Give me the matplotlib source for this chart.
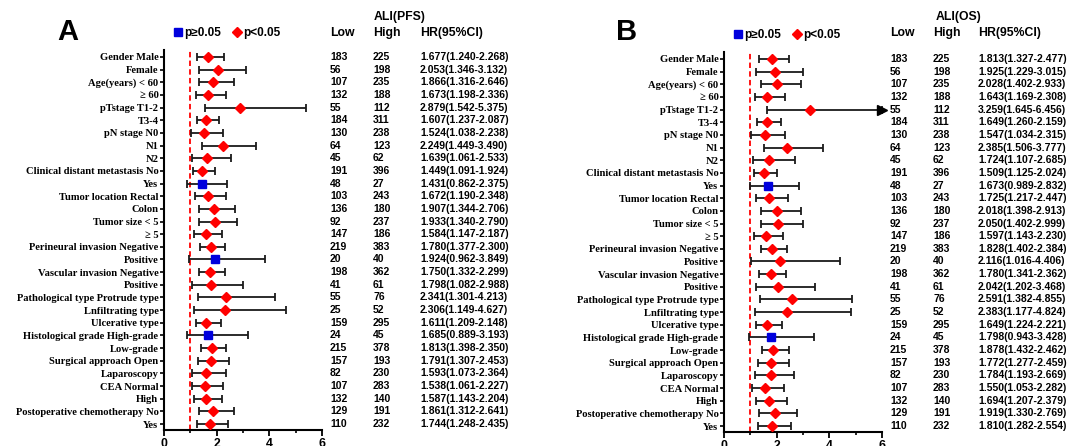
import matplotlib
matplotlib.use("Agg")
import matplotlib.pyplot as plt
import matplotlib.transforms as mtransforms
import numpy as np

plt.rcParams["font.family"] = ["Liberation Sans", "DejaVu Sans"]

LABELS = [
    "Gender Male", "Female", "Age(years) < 60", "≥ 60", "pTstage T1-2", "T3-4",
    "pN stage N0", "N1", "N2", "Clinical distant metastasis No", "Yes",
    "Tumor location Rectal", "Colon", "Tumor size < 5", "≥ 5",
    "Perineural invasion Negative", "Positive", "Vascular invasion Negative",
    "Positive", "Pathological type Protrude type", "Lnfiltrating type",
    "Ulcerative type", "Histological grade High-grade", "Low-grade",
    "Surgical approach Open", "Laparoscopy", "CEA Normal", "High",
    "Postoperative chemotherapy No", "Yes",
]
LOW_N = [183, 56, 107, 132, 55, 184, 130, 64, 45, 191, 48, 103, 136, 92, 147,
         219, 20, 198, 41, 55, 25, 159, 24, 215, 157, 82, 107, 132, 129, 110]
HIGH_N = [225, 198, 235, 188, 112, 311, 238, 123, 62, 396, 27, 243, 180, 237, 186,
          383, 40, 362, 61, 76, 52, 295, 45, 378, 193, 230, 283, 140, 191, 232]

PFS_HR = [1.677, 2.053, 1.866, 1.673, 2.879, 1.607, 1.524, 2.249, 1.639, 1.449,
          1.431, 1.672, 1.907, 1.933, 1.584, 1.780, 1.924, 1.750, 1.798, 2.341,
          2.306, 1.611, 1.685, 1.813, 1.791, 1.593, 1.538, 1.587, 1.861, 1.744]
PFS_LO = [1.240, 1.346, 1.316, 1.198, 1.542, 1.237, 1.038, 1.449, 1.061, 1.091,
          0.862, 1.190, 1.344, 1.340, 1.147, 1.377, 0.962, 1.332, 1.082, 1.301,
          1.149, 1.209, 0.889, 1.398, 1.307, 1.073, 1.061, 1.143, 1.312, 1.248]
PFS_HI = [2.268, 3.132, 2.646, 2.336, 5.375, 2.087, 2.238, 3.490, 2.533, 1.924,
          2.375, 2.348, 2.706, 2.790, 2.187, 2.300, 3.849, 2.299, 2.988, 4.213,
          4.627, 2.148, 3.193, 2.350, 2.453, 2.364, 2.227, 2.204, 2.641, 2.435]

OS_HR = [1.813, 1.925, 2.028, 1.643, 3.259, 1.649, 1.547, 2.385, 1.724, 1.509,
         1.673, 1.725, 2.018, 2.050, 1.597, 1.828, 2.116, 1.780, 2.042, 2.591,
         2.383, 1.649, 1.798, 1.878, 1.772, 1.784, 1.550, 1.694, 1.919, 1.810]
OS_LO = [1.327, 1.229, 1.402, 1.169, 1.645, 1.260, 1.034, 1.506, 1.107, 1.125,
         0.989, 1.217, 1.398, 1.402, 1.143, 1.402, 1.016, 1.341, 1.202, 1.382,
         1.177, 1.224, 0.943, 1.432, 1.277, 1.193, 1.053, 1.207, 1.330, 1.282]
OS_HI = [2.477, 3.015, 2.933, 2.308, 6.456, 2.159, 2.315, 3.777, 2.685, 2.024,
         2.832, 2.447, 2.913, 2.999, 2.230, 2.384, 4.406, 2.362, 3.468, 4.855,
         4.824, 2.221, 3.428, 2.462, 2.459, 2.669, 2.282, 2.379, 2.769, 2.554]

XMAX = 6.0
SERIF = ["Liberation Serif", "DejaVu Serif"]


def panel(fig, rect, hr, lo, hi, letter, title, col_x, letter_x):
    hr, lo, hi = map(np.asarray, (hr, lo, hi))
    y = np.arange(len(hr))
    ax = fig.add_axes(rect)

    hi_c = np.minimum(hi, XMAX)
    ax.errorbar(hr, y, xerr=[hr - lo, hi_c - hr], fmt="none", ecolor="#1a1a1a",
                elinewidth=1.3, capsize=3.2, capthick=1.3, zorder=2, clip_on=False)
    over = hi > XMAX
    if over.any():
        ax.plot(np.full(over.sum(), XMAX), y[over], ">", color="black", ms=7,
                clip_on=False, zorder=3)

    ns = lo < 1
    ax.plot(hr[ns], y[ns], "s", color="#0000dd", ms=5.4, zorder=4, label="p≥0.05")
    ax.plot(hr[~ns], y[~ns], "D", color="red", ms=5.3, zorder=4, label="p<0.05")
    ax.axvline(1, color="red", ls=(0, (3, 1.8)), lw=1.3, zorder=1)

    ax.set_xlim(0, XMAX)
    ax.set_ylim(len(hr) - 0.53, -0.55)
    ax.set_xticks([0, 2, 4, 6])
    ax.set_xticks([1, 3, 5], minor=True)
    ax.set_yticks(y)
    ax.set_yticklabels(LABELS, family=SERIF, fontweight="bold", fontsize=7.6)
    for lab in ax.get_xticklabels():
        lab.set_fontweight("bold")
        lab.set_fontsize(8.8)
    ax.tick_params(axis="y", length=3, width=1.2, pad=1)
    ax.tick_params(axis="x", which="major", length=4, width=1.3, pad=2)
    ax.tick_params(axis="x", which="minor", length=2.5, width=1.2)
    for s in ("top", "right"):
        ax.spines[s].set_visible(False)
    for s in ("left", "bottom"):
        ax.spines[s].set_linewidth(1.5)

    ax.legend(loc="center left", bbox_to_anchor=(0.07, 1.045), ncol=2, frameon=False,
              handlelength=0.5, handletextpad=0.25, columnspacing=1.15, borderpad=0,
              borderaxespad=0, prop={"weight": "bold", "size": 8.5})

    tr = mtransforms.blended_transform_factory(fig.transFigure, ax.transData)
    x_low, x_high, x_hr = col_x
    num_kw = dict(transform=tr, va="center", fontsize=7.5, fontweight="bold",
                  clip_on=False)
    for i in y:
        ax.text(x_low, i, str(LOW_N[i]), **num_kw)
        ax.text(x_high, i, str(HIGH_N[i]), **num_kw)
        ax.text(x_hr, i, f"{hr[i]:.3f}({lo[i]:.3f}-{hi[i]:.3f})", **num_kw)

    hy = 1 - 33 / 446
    fig.text(x_low, hy, "Low", fontsize=8.8, fontweight="bold", va="center")
    fig.text(x_high, hy, "High", fontsize=8.8, fontweight="bold", va="center")
    fig.text(x_hr, hy, "HR(95%CI)", fontsize=8.8, fontweight="bold", va="center")
    fig.text((x_high + x_hr) / 2 + 0.003, 1 - 17 / 446, title, fontsize=8.8,
             fontweight="bold", va="center", ha="center")
    fig.text(letter_x, 1 - 40 / 446, letter, fontsize=21, fontweight="bold",
             va="baseline")
    return ax


fig = plt.figure(figsize=(10.75, 4.46), dpi=100)
panel(fig, [164 / 1075, 1 - 430 / 446, 158 / 1075, 380 / 446],
      PFS_HR, PFS_LO, PFS_HI, "A", "ALI(PFS)",
      (330 / 1075, 373 / 1075, 420 / 1075), 57 / 1075)
panel(fig, [724 / 1075, 1 - 432 / 446, 158 / 1075, 380 / 446],
      OS_HR, OS_LO, OS_HI, "B", "ALI(OS)",
      (890 / 1075, 933 / 1075, 978 / 1075), 616 / 1075)

fig.savefig("out.png", dpi=100)
